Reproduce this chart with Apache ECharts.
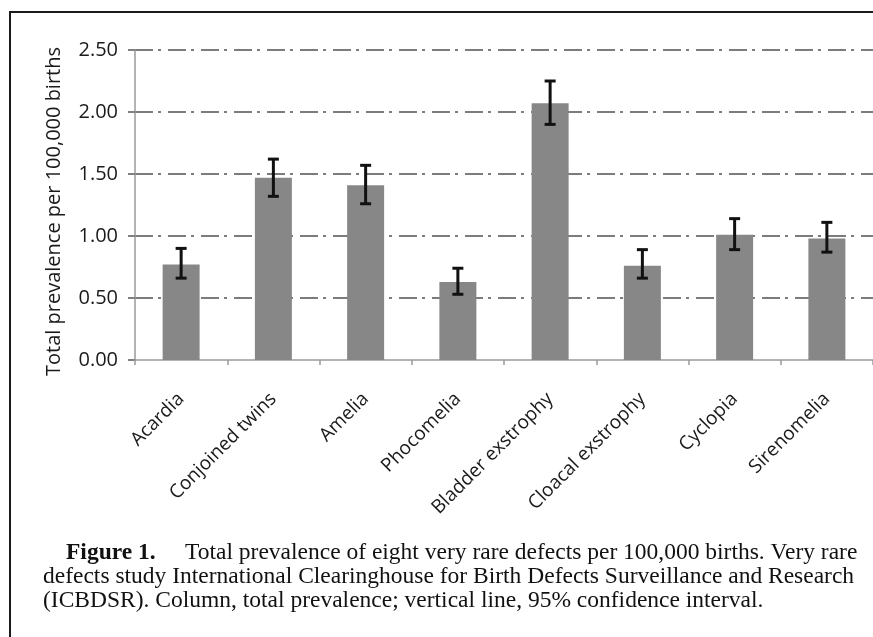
<!DOCTYPE html>
<html>
<head>
<meta charset="utf-8">
<script src="https://cdn.jsdelivr.net/npm/echarts@6/dist/echarts.min.js"></script>
<style>
  html, body { margin: 0; padding: 0; background: #fff; }
  #chart { width: 873px; height: 637px; }
</style>
</head>
<body>
<div id="chart"></div>
<script>
// ---- data ----
var categories = ['Acardia', 'Conjoined twins', 'Amelia', 'Phocomelia', 'Bladder exstrophy', 'Cloacal exstrophy', 'Cyclopia', 'Sirenomelia'];
var prevalence = [0.77, 1.47, 1.41, 0.63, 2.07, 0.76, 1.01, 0.98];
var ciLow  = [0.66, 1.32, 1.26, 0.53, 1.90, 0.66, 0.89, 0.87];
var ciHigh = [0.90, 1.62, 1.57, 0.74, 2.25, 0.89, 1.14, 1.11];
var yTicks = [0, 0.5, 1, 1.5, 2, 2.5];

var errData = categories.map(function (c, i) { return [i, ciLow[i], ciHigh[i]]; });

var chart = echarts.init(document.getElementById('chart'), null, { renderer: 'canvas' });
var axisFont = 'Open Sans';
var serif = 'Liberation Serif';
var capFont = '23.5px "' + serif + '"';

chart.setOption({
  animation: false,
  backgroundColor: '#fff',
  grid: { left: 135, top: 50, width: 741, height: 310, containLabel: false },
  xAxis: {
    type: 'category',
    data: categories,
    axisLine: { lineStyle: { color: '#9a9a9a', width: 1.5 } },
    axisTick: { show: true, length: 5, lineStyle: { color: '#9a9a9a', width: 1.5 } },
    axisLabel: { rotate: 45, margin: 36, color: '#1a1a1a', fontFamily: axisFont, fontSize: 19, interval: 0 }
  },
  yAxis: {
    type: 'value',
    min: yTicks[0],
    max: yTicks[yTicks.length - 1],
    interval: 0.5,
    name: 'Total prevalence per 100,000 births',
    nameLocation: 'middle',
    nameGap: 71,
    nameTextStyle: { color: '#1a1a1a', fontFamily: axisFont, fontSize: 20, padding: [0, 13, 0, 0] },
    axisLine: { show: true, lineStyle: { color: '#9a9a9a', width: 1.5 } },
    axisTick: { show: true, length: 7, lineStyle: { color: '#808080', width: 2 } },
    axisLabel: { margin: 17, color: '#1a1a1a', fontFamily: axisFont, fontSize: 20,
      formatter: function (v) { return v.toFixed(2); } },
    splitLine: { show: true, showMinLine: false,
      lineStyle: { color: '#7c7c7c', width: 2, type: [18, 5, 3, 7] } }
  },
  series: [
    {
      type: 'bar',
      data: prevalence,
      barWidth: 37,
      itemStyle: { color: '#878787' },
      z: 2
    },
    {
      type: 'custom',
      data: errData,
      encode: { x: 0, y: [1, 2] },
      z: 5,
      renderItem: function (params, api) {
        var i = api.value(0);
        var lo = api.coord([i, api.value(1)]);
        var hi = api.coord([i, api.value(2)]);
        var hw = 5.5;
        var st = { stroke: '#111', lineWidth: 3 };
        return {
          type: 'group',
          children: [
            { type: 'line', shape: { x1: lo[0], y1: lo[1], x2: hi[0], y2: hi[1] }, style: st },
            { type: 'line', shape: { x1: lo[0] - hw, y1: lo[1], x2: lo[0] + hw, y2: lo[1] }, style: st },
            { type: 'line', shape: { x1: hi[0] - hw, y1: hi[1], x2: hi[0] + hw, y2: hi[1] }, style: st }
          ]
        };
      }
    }
  ],
  graphic: [
    { type: 'rect', shape: { x: 10, y: 12, width: 900, height: 700 }, style: { fill: 'none', stroke: '#1a1a1a', lineWidth: 2 }, silent: true },
    { type: 'text', left: 66, top: 541, style: { text: 'Figure 1.', font: 'bold 23.5px "' + serif + '"', fill: '#111' } },
    { type: 'text', left: 185, top: 541, style: { text: 'Total prevalence of eight very rare defects per 100,000 births. Very rare', font: capFont, fill: '#111' } },
    { type: 'text', left: 43, top: 565, style: { text: 'defects study International Clearinghouse for Birth Defects Surveillance and Research', font: capFont, fill: '#111' } },
    { type: 'text', left: 43, top: 589, style: { text: '(ICBDSR). Column, total prevalence; vertical line, 95% confidence interval.', font: capFont, fill: '#111' } }
  ]
});
</script>
</body>
</html>
